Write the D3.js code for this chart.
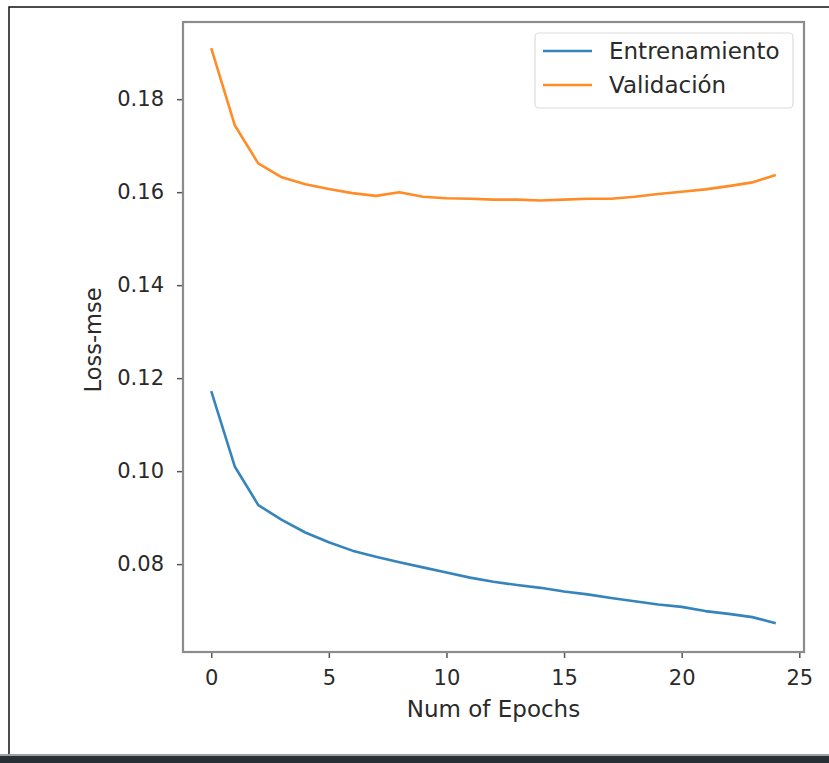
<!DOCTYPE html>
<html>
<head>
<meta charset="utf-8">
<script src="https://cdn.jsdelivr.net/npm/d3@7"></script>
<style>
  body { margin: 0; background: #fff; }
  svg { display: block; font-family: "DejaVu Sans", sans-serif; }
</style>
</head>
<body>
<div id="chart"></div>
<script>
// epochs 0..24
var epochs = d3.range(25);
var train = [0.1172, 0.1010, 0.0927, 0.0895, 0.0868, 0.0847, 0.0829, 0.0816, 0.0804, 0.0793,
             0.0782, 0.0771, 0.0762, 0.0755, 0.0749, 0.0741, 0.0735, 0.0727, 0.0720, 0.0713,
             0.0708, 0.0699, 0.0693, 0.0686, 0.0673];
var valid = [0.1910, 0.1744, 0.1662, 0.1632, 0.1617, 0.1607, 0.1598, 0.1592, 0.1600, 0.1590,
             0.1587, 0.1586, 0.1584, 0.1584, 0.1582, 0.1584, 0.1586, 0.1586, 0.1590, 0.1596,
             0.1601, 0.1606, 0.1613, 0.1621, 0.1637];
var xTicks = [0, 5, 10, 15, 20, 25];
var yTicks = [0.08, 0.10, 0.12, 0.14, 0.16, 0.18];
var seriesNames = ["Entrenamiento", "Validación"];
var colors = ["#1f77b4", "#ff7f0e"];

var W = 829, H = 763;
var pLeft = 183, pRight = 804, pTop = 22, pBottom = 652;

var svg = d3.select("#chart")
    .append("svg")
    .attr("width", W)
    .attr("height", H);

// screenshot frame
svg.append("rect")
    .attr("x", 9).attr("y", 7)
    .attr("width", W).attr("height", H)
    .attr("fill", "#fff")
    .attr("stroke", "#111")
    .attr("stroke-width", 1.5);
svg.append("rect")
    .attr("x", 0).attr("y", 754)
    .attr("width", W).attr("height", 2)
    .attr("fill", "#9aa0a4");
svg.append("rect")
    .attr("x", 0).attr("y", 756)
    .attr("width", W).attr("height", 7)
    .attr("fill", "#283036");

var x = d3.scaleLinear().domain([-1.2, 25.2]).range([pLeft, pRight]);
var y = d3.scaleLinear().domain([0.0611, 0.1966]).range([pBottom, pTop]);

// axes
var xAxis = svg.append("g")
    .attr("transform", "translate(0," + pBottom + ")")
    .call(d3.axisBottom(x).tickValues(xTicks).tickSize(6).tickPadding(12).tickFormat(d3.format("d")));
var yAxis = svg.append("g")
    .attr("transform", "translate(" + pLeft + ",0)")
    .call(d3.axisLeft(y).tickValues(yTicks).tickSize(6).tickPadding(13).tickFormat(d3.format(".2f")));

[xAxis, yAxis].forEach(function (g) {
    g.select(".domain").remove();
    g.selectAll(".tick line").attr("stroke", "#555").attr("stroke-width", 1.5);
    g.selectAll(".tick text")
        .attr("fill", "#2a2a2a")
        .style("font-size", "21px")
        .style("font-family", "DejaVu Sans");
});

// plot frame (spines)
svg.append("rect")
    .attr("x", pLeft).attr("y", pTop)
    .attr("width", pRight - pLeft).attr("height", pBottom - pTop)
    .attr("fill", "none")
    .attr("stroke", "#8c8c8c")
    .attr("stroke-width", 2.2);

// lines
var line = d3.line()
    .x(function (d, i) { return x(epochs[i]); })
    .y(function (d) { return y(d); });

svg.selectAll("path.series")
    .data([train, valid])
    .enter()
    .append("path")
    .attr("class", "series")
    .attr("d", line)
    .attr("fill", "none")
    .attr("stroke", function (d, i) { return colors[i]; })
    .attr("stroke-width", 2.6)
    .attr("stroke-linejoin", "round")
    .attr("stroke-opacity", 0.9);

// axis titles
svg.append("text")
    .attr("x", (pLeft + pRight) / 2)
    .attr("y", 717)
    .attr("text-anchor", "middle")
    .attr("fill", "#2a2a2a")
    .style("font-size", "23px")
    .text("Num of Epochs");

svg.append("text")
    .attr("transform", "translate(101," + 340 + ") rotate(-90)")
    .attr("text-anchor", "middle")
    .attr("fill", "#2a2a2a")
    .style("font-size", "22.5px")
    .text("Loss-mse");

// legend
var legend = svg.append("g");
legend.append("rect")
    .attr("x", 535).attr("y", 33)
    .attr("width", 258).attr("height", 75)
    .attr("rx", 4)
    .attr("fill", "#fff")
    .attr("stroke", "#dcdcdc")
    .attr("stroke-width", 1.2);

var items = legend.selectAll("g.item")
    .data(seriesNames)
    .enter()
    .append("g")
    .attr("class", "item")
    .attr("transform", function (d, i) { return "translate(0," + (51 + i * 34) + ")"; });

items.append("line")
    .attr("x1", 543).attr("x2", 592)
    .attr("stroke", function (d, i) { return colors[i]; })
    .attr("stroke-width", 2.6)
    .attr("stroke-opacity", 0.9);

items.append("text")
    .attr("x", 609)
    .attr("y", 8)
    .attr("fill", "#2a2a2a")
    .style("font-size", "23px")
    .text(function (d) { return d; });
</script>
</body>
</html>
